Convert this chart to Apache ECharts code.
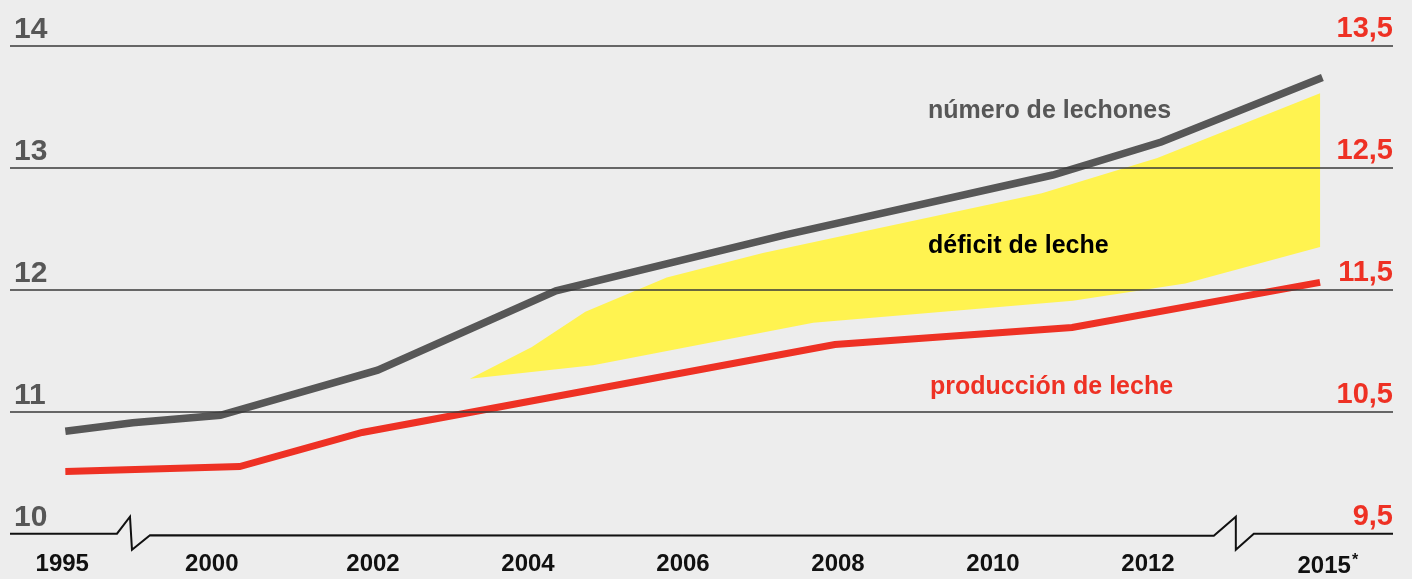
<!DOCTYPE html>
<html>
<head>
<meta charset="utf-8">
<script src="https://cdn.jsdelivr.net/npm/echarts@6/dist/echarts.min.js"></script>
<style>
html,body{margin:0;padding:0;background:#ededed;}
#chart{width:1412px;height:579px;}
</style>
</head>
<body>
<div id="chart"></div>
<script>
// x positions are axis positions (the axis is broken between 1995/2000 and 2012/2015)
const xTickPositions = [1997.99, 1999.92, 2002, 2004, 2006, 2008, 2010, 2012, 2014.32];
const xTickLabels = ['1995', '2000', '2002', '2004', '2006', '2008', '2010', '2012', '2015*'];
const axisBreaks = [1998.89, 2013.12];

const leftTicks = [10, 11, 12, 13, 14];
const rightTicks = [9.5, 10.5, 11.5, 12.5, 13.5];

// número de lechones (left axis)
const lechonesX = [1998.03, 1998.90, 2000.03, 2002.06, 2004.36, 2007.32, 2010.77, 2012.17, 2014.25];
const lechonesY = [10.84, 10.91, 10.97, 11.34, 11.99, 12.45, 12.94, 13.21, 13.74];

// producción de leche (right axis)
const lecheX = [1998.03, 2000.28, 2001.86, 2007.96, 2011.02, 2014.22];
const lecheY = [10.01, 10.05, 10.33, 11.05, 11.19, 11.56];

// déficit de leche band (left axis)
const deficitTopX = [2003.25, 2004.05, 2004.74, 2005.79, 2007.03, 2010.63, 2012.12, 2014.22];
const deficitTopY = [11.27, 11.53, 11.82, 12.10, 12.30, 12.79, 13.08, 13.61];
const deficitBottomX = [2003.25, 2004.84, 2007.68, 2011.03, 2012.48, 2014.22];
const deficitBottomY = [11.27, 11.38, 11.73, 11.91, 12.05, 12.35];

const X_MIN = 1997.316, X_MAX = 2015.161;
const GRAY = '#575757', RED = '#ee3124', YELLOW = '#fff350';
const FONT = '"Liberation Sans", Arial, sans-serif';

const zip = (xs, ys) => xs.map((x, i) => [x, ys[i]]);

const chart = echarts.init(document.getElementById('chart'));
chart.setOption({
  animation: false,
  backgroundColor: '#ededed',
  grid: { left: 10, right: 19, top: 45.7, bottom: 45.3, containLabel: false },
  xAxis: {
    type: 'value', min: X_MIN, max: X_MAX,
    axisLine: { show: false }, axisTick: { show: false }, splitLine: { show: false },
    axisLabel: {
      customValues: xTickPositions,
      margin: 19,
      color: '#111', fontFamily: FONT, fontWeight: 'bold', fontSize: 24,
      formatter: function (v) {
        let best = 0;
        xTickPositions.forEach((p, i) => { if (Math.abs(p - v) < Math.abs(xTickPositions[best] - v)) best = i; });
        const lab = xTickLabels[best];
        if (lab.endsWith('*')) return lab.slice(0, -1) + '{sup|*}';
        return lab;
      },
      rich: { sup: { fontSize: 16, fontWeight: 'bold', color: '#111', fontFamily: FONT, verticalAlign: 'top', padding: [0, 0, 12, 1] } }
    }
  },
  yAxis: [
    {
      type: 'value', min: 10, max: 14, interval: 1, position: 'left', z: 10,
      axisLine: { show: false }, axisTick: { show: false },
      splitLine: { show: true, lineStyle: { color: ['rgba(0,0,0,0)', '#383838', '#383838', '#383838', '#383838'], width: 1.6 } },
      axisLabel: {
        inside: true, margin: 4, verticalAlign: 'bottom', padding: [0, 0, 1, 0],
        customValues: leftTicks,
        color: GRAY, fontFamily: FONT, fontWeight: 'bold', fontSize: 30
      }
    },
    {
      type: 'value', min: 9.5, max: 13.5, position: 'right', z: 10,
      axisLine: { show: false }, axisTick: { show: false }, splitLine: { show: false },
      axisLabel: {
        inside: true, margin: 0, verticalAlign: 'bottom', padding: [0, 0, 2, 0],
        customValues: rightTicks,
        color: RED, fontFamily: FONT, fontWeight: 'bold', fontSize: 29,
        formatter: v => String(v).replace('.', ',')
      }
    }
  ],
  series: [
    {
      type: 'custom', name: 'déficit de leche', coordinateSystem: 'cartesian2d', yAxisIndex: 0, z: 1, clip: false,
      data: [[deficitTopX[0], deficitTopY[0]]],
      renderItem: function (params, api) {
        const pts = zip(deficitTopX, deficitTopY).map(p => api.coord(p))
          .concat(zip(deficitBottomX, deficitBottomY).reverse().map(p => api.coord(p)));
        return { type: 'polygon', shape: { points: pts }, style: { fill: YELLOW, stroke: null } };
      }
    },
    {
      type: 'line', name: 'número de lechones', yAxisIndex: 0, z: 3,
      data: zip(lechonesX, lechonesY), symbol: 'none',
      lineStyle: { color: GRAY, width: 7.5, cap: 'butt', join: 'miter' }
    },
    {
      type: 'line', name: 'producción de leche', yAxisIndex: 1, z: 3,
      data: zip(lecheX, lecheY), symbol: 'none',
      lineStyle: { color: RED, width: 7, cap: 'butt', join: 'miter' }
    },
    {
      type: 'custom', name: 'base', coordinateSystem: 'cartesian2d', yAxisIndex: 0, z: 4, clip: false,
      data: [[X_MIN, 10]],
      renderItem: function (params, api) {
        const L = api.coord([X_MIN, 10]), R = api.coord([X_MAX, 10]);
        const y0 = L[1];
        const c1 = api.coord([axisBreaks[0], 10])[0];
        const c2 = api.coord([axisBreaks[1], 10])[0];
        const pts = [
          [L[0], y0], [c1 - 15, y0], [c1 - 2, y0 - 17], [c1, y0 + 16], [c1 + 18, y0 + 1.5],
          [c2 - 21, y0 + 2], [c2 + 1, y0 - 17], [c2 + 1, y0 + 16], [c2 + 19, y0], [R[0], y0]
        ];
        return { type: 'polyline', shape: { points: pts }, style: { stroke: '#111', lineWidth: 2, fill: null } };
      }
    }
  ],
  graphic: [
    { type: 'text', z: 50, left: 928, top: 99, style: { text: 'número de lechones', fill: GRAY, font: 'bold 25px ' + FONT } },
    { type: 'text', z: 50, left: 928, top: 234, style: { text: 'déficit de leche', fill: '#000', font: 'bold 25px ' + FONT } },
    { type: 'text', z: 50, left: 930, top: 375, style: { text: 'producción de leche', fill: RED, font: 'bold 25px ' + FONT } }
  ]
});
</script>
</body>
</html>
